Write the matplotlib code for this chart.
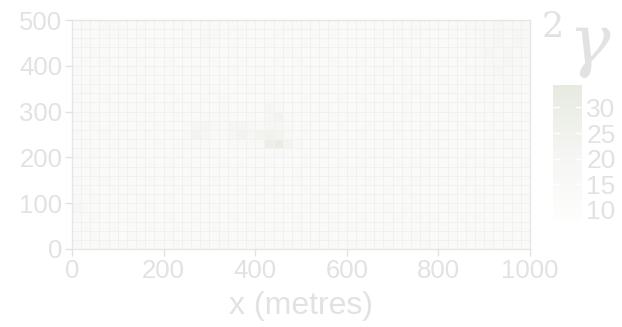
import numpy as np
import matplotlib
matplotlib.use("Agg")
import matplotlib.pyplot as plt
from matplotlib.colors import LinearSegmentedColormap

plt.rcParams['font.family'] = ['Liberation Sans', 'DejaVu Sans']

# Grid of 20 m cells over a 1000 m x 500 m field; rows listed from the top (y = 480) down
x_edges = np.arange(0, 1001, 20)
y_edges = np.arange(0, 501, 20)

# Intensity classes per cell (one digit per 20 m column)
rows = [
    "2324432322" "2322332332" "2223332232" "2322232333" "2334445444",
    "2223332322" "2232443232" "2232223232" "2223232322" "2323445454",
    "2322222232" "2332432322" "2322232222" "2223233232" "2233445454",
    "3232223222" "2232322323" "2223222322" "2232322323" "2323454544",
    "2323222322" "3222232232" "2232322232" "2322232232" "3232344543",
    "3222323232" "2323222322" "3222232222" "2223323232" "2223345443",
    "2232222322" "2222323232" "2322232322" "3232223222" "3232334433",
    "2322323222" "3222232223" "2322222322" "2223232322" "2323343432",
    "3223222232" "2322323222" "2232232223" "2322323232" "2232332322",
    "2322322322" "3223223232" "2542232322" "2232223232" "3223232232",
    "3232223232" "2322333223" "2563223232" "3222323222" "2322323223",
    "2232322323" "2235543554" "3553232223" "2232232232" "2232232322",
    "3223232232" "3246533565" "6764232322" "2322232223" "3223223232",
    "2322323223" "2333322334" "4896322232" "3222322323" "2232232322",
    "3232232322" "2322232223" "3343232322" "2232322232" "3223232232",
    "2322322232" "3232223232" "2322232223" "2322232322" "2232322323",
    "2232232322" "2223222322" "3222322232" "3222322232" "2322232232",
    "3223222232" "3232232223" "2232322232" "2232232322" "3223223232",
    "3322323222" "2322322232" "2322232322" "3222323222" "2232322322",
    "4232232322" "3222323222" "3232223232" "2232222322" "3222322323",
    "5322322232" "2322232223" "2223232322" "3222323222" "2322232232",
    "3232223222" "3223222322" "3222322232" "2322232323" "2232322322",
    "2322312232" "2322232223" "2232322232" "3222322232" "3223223232",
    "3232213222" "3232223232" "2322232322" "2232232322" "2322322323",
    "3223232322" "2322323223" "3223223232" "3222322232" "3232232322",
]
# Value attached to each intensity class
levels = [9, 11, 13, 15, 17, 20, 23, 26, 29, 32]

cbar_ticks = [10, 15, 20, 25, 30]
x_ticks = [0, 200, 400, 600, 800, 1000]
y_ticks = [0, 100, 200, 300, 400, 500]

grid = np.array([[levels[int(c)] for c in r] for r in rows], dtype=float)[::-1]

text_col = '#e2e2e2'
frame_col = '#e6e6e6'
cmap = LinearSegmentedColormap.from_list('pale', ['#fdfdfc', '#f5f5f3', '#e6eae0'])

fig = plt.figure(figsize=(6.22, 3.27), dpi=100)
ax = fig.add_axes([72 / 622, 1 - 249 / 327, 458 / 622, 229 / 327])
mesh = ax.pcolormesh(x_edges, y_edges, grid, cmap=cmap, vmin=8, vmax=34.4,
                     edgecolors='#f1f1f0', linewidth=0.7)
ax.set_xlim(0, 1000)
ax.set_ylim(0, 500)
ax.set_xticks(x_ticks)
ax.set_yticks(y_ticks)
for s in ax.spines.values():
    s.set_color(frame_col)
    s.set_linewidth(1.0)
ax.tick_params(colors=text_col, labelcolor=text_col, labelsize=18.5, length=5,
               width=1.0, pad=2)
ax.set_xlabel('x (metres)', color=text_col, fontsize=23, labelpad=6)

cax = fig.add_axes([553 / 622, 1 - 220 / 327, 29 / 622, 135 / 327])
cb = fig.colorbar(mesh, cax=cax, ticks=cbar_ticks)
cb.outline.set_visible(False)
cax.tick_params(left=True, right=True, direction='in', color='white', length=5,
                width=1.0, labelcolor=text_col, labelsize=19, pad=3)

# Legend title: superscript 2 ahead of a large gamma
fig.text(542 / 622, 1 - 44 / 327, '2', color=text_col, fontsize=25,
         family='DejaVu Serif', ha='left', va='bottom')
fig.text(568 / 622, 1 - 78 / 327, 'γ', color=text_col, fontsize=50,
         family='DejaVu Serif', style='italic', ha='left', va='bottom')

fig.savefig('out.png', dpi=100, facecolor='white')
